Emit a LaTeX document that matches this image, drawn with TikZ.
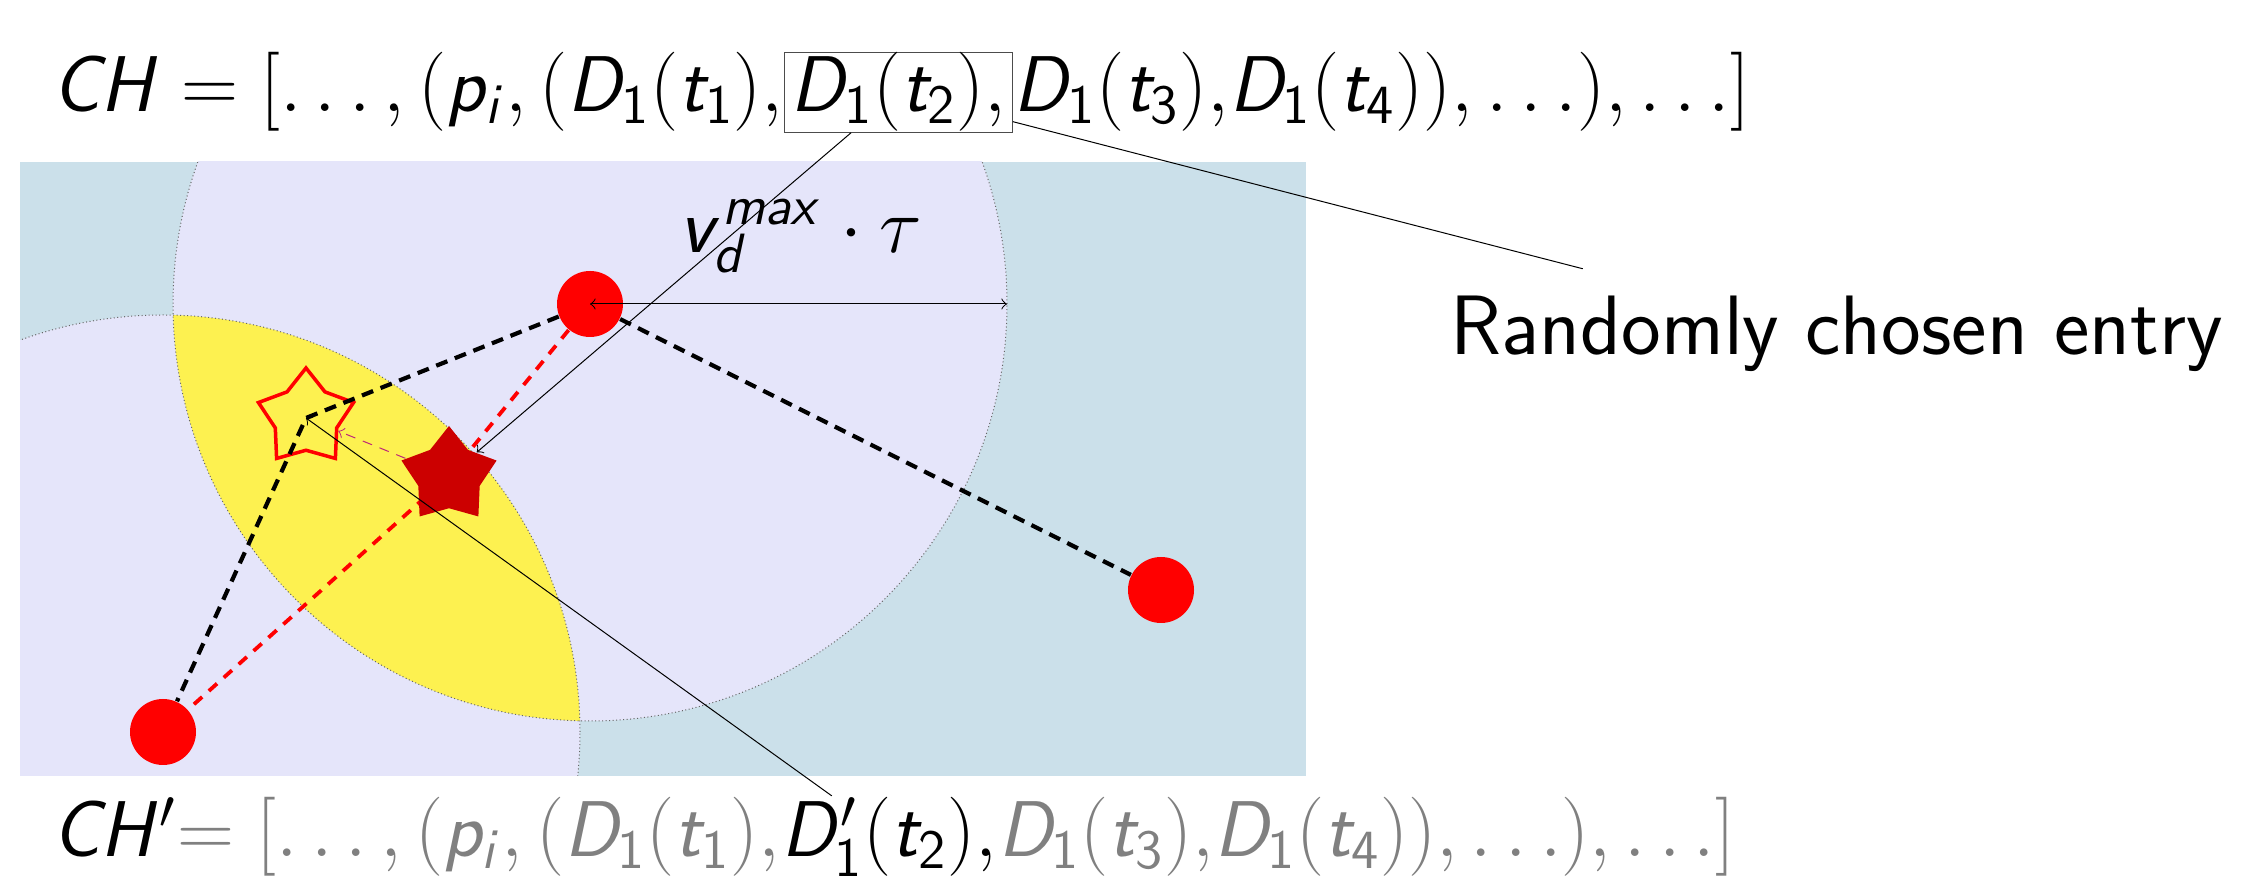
\documentclass[tikz,border=0pt]{standalone}
\usepackage{fix-cm}
\usetikzlibrary{shapes.geometric}
\DeclareSymbolFont{sfletters}{OT1}{cmss}{m}{sl}
\DeclareSymbolFont{sfupright}{OT1}{cmss}{m}{n}
\DeclareMathSymbol{C}{\mathalpha}{sfletters}{`C}
\DeclareMathSymbol{H}{\mathalpha}{sfletters}{`H}
\DeclareMathSymbol{D}{\mathalpha}{sfletters}{`D}
\DeclareMathSymbol{p}{\mathalpha}{sfletters}{`p}
\DeclareMathSymbol{i}{\mathalpha}{sfletters}{`i}
\DeclareMathSymbol{t}{\mathalpha}{sfletters}{`t}
\DeclareMathSymbol{v}{\mathalpha}{sfletters}{`v}
\DeclareMathSymbol{d}{\mathalpha}{sfletters}{`d}
\DeclareMathSymbol{m}{\mathalpha}{sfletters}{`m}
\DeclareMathSymbol{a}{\mathalpha}{sfletters}{`a}
\DeclareMathSymbol{x}{\mathalpha}{sfletters}{`x}
\DeclareMathSymbol{1}{\mathalpha}{sfupright}{`1}
\DeclareMathSymbol{2}{\mathalpha}{sfupright}{`2}
\DeclareMathSymbol{3}{\mathalpha}{sfupright}{`3}
\DeclareMathSymbol{4}{\mathalpha}{sfupright}{`4}
\definecolor{bgblue}{RGB}{203,224,234}
\definecolor{lav}{RGB}{229,229,250}
\definecolor{lensyellow}{RGB}{253,241,80}
\definecolor{dkred}{RGB}{204,0,0}
\definecolor{mag}{RGB}{190,40,120}
\pgfdeclarelayer{bg}
\pgfsetlayers{bg,main}
\begin{document}
\begin{tikzpicture}[x=0.1mm,y=-0.1mm,
  dot/.style={circle,fill=red,inner sep=0pt,minimum size=6.6mm},
  hollowstar/.style={star,star points=5,star point ratio=1.55,draw=red,line width=0.35mm,inner sep=0pt,minimum size=10mm},
  fullstar/.style={star,star points=5,star point ratio=1.55,fill=dkred,inner sep=0pt,minimum size=10mm},
  circleline/.style={draw=black!60,line width=0.1mm,dash pattern=on 0.1mm off 0.25mm},
  blackdash/.style={black,line width=0.42mm,dash pattern=on 1.2mm off 0.8mm},
  reddash/.style={red,line width=0.38mm,dash pattern=on 1.1mm off 0.9mm},
  magdash/.style={mag,line width=0.1mm,dash pattern=on 1mm off 0.8mm,->},
  leader/.style={black,line width=0.1mm},
  fml/.style={font=\fontsize{22.5}{27}\selectfont,inner sep=0pt},
  graytext/.style={text=gray}]
\useasboundingbox (0,0) rectangle (2247,881);
\begin{pgfonlayer}{bg}
\begin{scope}
  \clip (20,162) rectangle (1306,776);
  \fill[bgblue] (20,162) rectangle (1306,776);
  \fill[lav] (590,304) circle[radius=41.7mm];
  \fill[lav] (163,732) circle[radius=41.7mm];
  \begin{scope}
    \clip (590,304) circle[radius=41.7mm];
    \fill[lensyellow] (163,732) circle[radius=41.7mm];
  \end{scope}
  \draw[circleline] (590,304) circle[radius=41.7mm];
  \draw[circleline] (163,732) circle[radius=41.7mm];
\end{scope}
\end{pgfonlayer}
% formulas
\node[fml,anchor=base west] (f1) at (52,112) {$CH = [\dots, (p_i, (D_1(t_1){,}$};
\node[fml,draw=black!70,line width=0.1mm,inner xsep=0.6mm,inner ysep=0.05mm,anchor=base west] (box) at (f1.base east) {$D_1(t_2){,}$};
\node[fml,anchor=base west] (f3) at (box.base east) {$D_1(t_3){,}D_1(t_4)),\dots),\dots]$};
\node[fml,anchor=base west] (g0) at (52,857) {$CH'$};
\node[fml,graytext,anchor=base west] (g1) at (g0.base east) {$= [\dots, (p_i, (D_1(t_1){,}$};
\node[fml,inner xsep=0pt,inner ysep=0.1mm,anchor=base west] (g2) at (g1.base east) {$D'_1(t_2){,}$};
\node[fml,graytext,anchor=base west] (g3) at (g2.base east) {$D_1(t_3){,}D_1(t_4)),\dots),\dots]$};
\node[font=\sffamily\fontsize{24}{29}\selectfont,inner sep=2.7mm,anchor=base west] (rand) at (1423,355) {Randomly chosen entry};
% points
\node[dot] (A) at (590,304) {};
\node[dot] (B) at (163,732) {};
\node[dot] (C) at (1161,590) {};
\coordinate (hc) at (306,418);
\coordinate (fc) at (449,476);
\coordinate (edge) at (1007,304);
\draw[reddash] (A) -- (fc) -- (B);
\node[fullstar] (fs) at (fc) {};
\node[hollowstar] (hs) at (hc) {};
\draw[blackdash] (A) -- (hc) -- (B);
\draw[blackdash] (A) -- (C);
\draw[magdash] (fs) -- (hs);
% leaders
\draw[leader,<->] (A.center) -- (edge);
\node[fml,anchor=base] (lbl) at (801,253) {$v_d^{max}\cdot\tau$};
\draw[leader,->] (box) -- (fs);
\draw[leader] (box) -- (rand);
\draw[leader,->] (g2) -- (hc);
\end{tikzpicture}
\end{document}
